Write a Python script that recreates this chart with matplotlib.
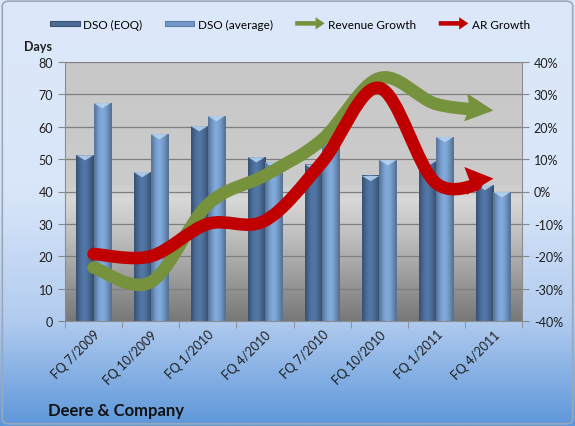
import numpy as np
import matplotlib
matplotlib.use("Agg")
import matplotlib.pyplot as plt
import matplotlib.patches as mpatches
from matplotlib.path import Path
from matplotlib.legend_handler import HandlerPatch
from matplotlib.colors import LinearSegmentedColormap, to_rgb
from matplotlib.ticker import FuncFormatter

plt.rcParams['font.family'] = ['Lato', 'DejaVu Sans']

quarters = ["FQ 7/2009", "FQ 10/2009", "FQ 1/2010", "FQ 4/2010",
            "FQ 7/2010", "FQ 10/2010", "FQ 1/2011", "FQ 4/2011"]
dso_eoq = [51.2, 46.0, 60.2, 50.6, 48.3, 44.8, 49.4, 42.0]
dso_avg = [67.3, 57.7, 63.3, 49.0, 56.0, 49.7, 56.8, 39.8]
rev_growth = [-23.5, -28.0, -4.0, 5.0, 16.0, 35.0, 27.0, 25.0]
ar_growth = [-19.3, -20.0, -10.0, -9.0, 9.0, 32.0, 2.5, 4.0]

eoq_col = "#4a6b96"
avg_col = "#7399c6"
green = "#76923c"
red = "#c00000"
txt_col = "#1f1f1f"

fig = plt.figure(figsize=(5.75, 4.27), dpi=100)

# figure background gradient
bg = fig.add_axes([0, 0, 1, 1], zorder=-10)
fig_cmap = LinearSegmentedColormap.from_list(
    "figbg", [(0, "#dde9fa"), (0.45, "#d9e6f9"), (0.75, "#b2ccef"), (1.0, "#5e97da")])
bg.imshow(np.linspace(0, 1, 256).reshape(-1, 1), cmap=fig_cmap, aspect="auto",
          extent=[0, 1, 0, 1], origin="upper")
bg.set_xlim(0, 1)
bg.set_ylim(0, 1)
bg.axis("off")
bg.add_patch(mpatches.FancyBboxPatch((0.004, 0.005), 0.992, 0.99,
                                     boxstyle="round,pad=0,rounding_size=0.012",
                                     fill=False, edgecolor="#9aa8b8", lw=1.2))

ax = fig.add_axes([65 / 575, 105 / 427, 457 / 575, 259 / 427])
x = np.arange(len(quarters))

# plot area gradient
plot_cmap = LinearSegmentedColormap.from_list(
    "plotbg", [(0, "#c8c8c8"), (0.47, "#cbcbcb"), (0.53, "#d8d8d8"),
               (0.68, "#bdbdbd"), (1.0, "#787878")])
ax.imshow(np.linspace(0, 1, 256).reshape(-1, 1), cmap=plot_cmap, aspect="auto",
          extent=[-0.5, 7.5, 0, 80], origin="upper", zorder=-1)


def shade_bars(bars, base):
    c = np.array(to_rgb(base))
    prof = np.array([0.78, 0.9, 1.0, 1.08, 1.12, 1.1, 1.04, 0.95, 0.85, 0.75])
    img = np.clip(c[None, :] * prof[:, None], 0, 1)[None, :, :]
    for r in bars:
        x0, w, h = r.get_x(), r.get_width(), r.get_height()
        ax.imshow(img, extent=[x0, x0 + w, 0, h], aspect="auto", zorder=2.1,
                  interpolation="bilinear")
        ax.add_patch(mpatches.Polygon([(x0, h), (x0 + w, h), (x0 + w / 2, h - 1.6)],
                                      closed=True, facecolor="#bcd6f2", alpha=0.85,
                                      lw=0, zorder=2.2))


b1 = ax.bar(x - 0.15, dso_eoq, 0.3, color=eoq_col, zorder=2)
b2 = ax.bar(x + 0.15, dso_avg, 0.3, color=avg_col, zorder=2)
shade_bars(b1, eoq_col)
shade_bars(b2, avg_col)

ax.set_xlim(-0.5, 7.5)
ax.set_ylim(0, 80)
ax.set_yticks(range(0, 81, 10))
ax.yaxis.grid(True, color="#7f7f7f", lw=0.9)
ax.set_axisbelow(True)
ax.set_xticks(x, quarters, rotation=45, ha="right", rotation_mode="anchor")
ax.set_xticks(np.arange(-0.5, 8, 1), minor=True)
ax.tick_params(axis="x", which="major", length=0, pad=5, labelsize=9, labelcolor=txt_col)
ax.tick_params(axis="x", which="minor", length=5, color="#888888")
ax.tick_params(axis="y", length=5, color="#888888", labelsize=9, labelcolor=txt_col)
for s in ["top", "right"]:
    ax.spines[s].set_visible(False)
for s in ["left", "bottom"]:
    ax.spines[s].set_color("#8c8c8c")

ax2 = ax.twinx()
ax2.set_ylim(-40, 40)
ax2.set_yticks(range(-40, 41, 10))
ax2.yaxis.set_major_formatter(FuncFormatter(lambda v, p: f"{v:.0f}%"))
ax2.tick_params(axis="y", length=5, color="#888888", labelsize=9, labelcolor=txt_col)
for s in ["top", "left", "bottom"]:
    ax2.spines[s].set_visible(False)
ax2.spines["right"].set_color("#8c8c8c")
ax2.patch.set_visible(False)


def bez_split(seg, t):
    p0, p1, p2, p3 = seg
    a = p0 + (p1 - p0) * t
    b = p1 + (p2 - p1) * t
    c = p2 + (p3 - p2) * t
    d = a + (b - a) * t
    e = b + (c - b) * t
    return [p0, a, d, d + (e - d) * t]


def arrow_line(xs, ys, color, lw=9, head_len=28, head_w=28, cut=18):
    tr = ax2.transData
    pts = tr.transform(np.column_stack([xs, ys]))
    ext = np.vstack([pts[0], pts, pts[-1]])
    segs = []
    for i in range(len(pts) - 1):
        p0, p1, p2, p3 = ext[i], ext[i + 1], ext[i + 2], ext[i + 3]
        segs.append([p1, p1 + (p2 - p0) / 6, p2 - (p3 - p1) / 6, p2])
    last = segs[-1]
    tip = last[3]
    direc = tip - last[2]
    direc = direc / np.hypot(*direc)
    ts = np.linspace(0, 1, 400)
    for t in ts[::-1]:
        if np.hypot(*(bez_split(last, t)[3] - tip)) >= cut:
            break
    segs[-1] = bez_split(last, t)
    verts = [segs[0][0]]
    codes = [Path.MOVETO]
    for s in segs:
        verts += [s[1], s[2], s[3]]
        codes += [Path.CURVE4] * 3
    inv = tr.inverted()
    path = Path(inv.transform(np.array(verts)), codes)
    ax2.add_patch(mpatches.PathPatch(path, fill=False, edgecolor=color, lw=lw,
                                     capstyle="round", joinstyle="round", zorder=5))
    nrm = np.array([-direc[1], direc[0]])
    base = tip - direc * head_len
    head = np.array([tip, base + nrm * head_w / 2, base + direc * 4, base - nrm * head_w / 2])
    ax2.add_patch(mpatches.Polygon(inv.transform(head), closed=True, facecolor=color,
                                   lw=0, zorder=5))


arrow_line(x, rev_growth, green)
arrow_line(x, ar_growth, red)


# legend
def bar_handle(legend, orig_handle, xdescent, ydescent, width, height, fontsize):
    return mpatches.Rectangle((-xdescent, -ydescent + height * 0.2), width, height * 0.6)


def arrow_handle(legend, orig_handle, xdescent, ydescent, width, height, fontsize):
    return mpatches.FancyArrow(-xdescent, -ydescent + height / 2, width, 0,
                               width=height * 0.55, head_width=height * 1.5,
                               head_length=height * 1.1, length_includes_head=True)


h1 = mpatches.Patch(facecolor=eoq_col, edgecolor="#3b5677", lw=0.8, label="DSO (EOQ)")
h2 = mpatches.Patch(facecolor=avg_col, edgecolor="#5a7fa8", lw=0.8, label="DSO (average)")
h3 = mpatches.Patch(facecolor=green, lw=0, label="Revenue Growth")
h4 = mpatches.Patch(facecolor=red, lw=0, label="AR Growth")
fig.legend(handles=[h1, h2, h3, h4], loc="center", bbox_to_anchor=(290 / 575, 1 - 25 / 427),
           ncol=4, frameon=False, fontsize=8.5, handlelength=2.5, handletextpad=0.3,
           columnspacing=1.9,
           handler_map={h1: HandlerPatch(patch_func=bar_handle),
                        h2: HandlerPatch(patch_func=bar_handle),
                        h3: HandlerPatch(patch_func=arrow_handle),
                        h4: HandlerPatch(patch_func=arrow_handle)})

fig.text(38 / 575, 1 - 47 / 427, "Days", ha="center", va="center", fontsize=9,
         weight="bold", color=txt_col)
fig.text(48 / 575, 1 - 411 / 427, "Deere & Company", ha="left", va="center",
         fontsize=12, weight="bold", color="#111111")

fig.savefig("out.png", dpi=100)
